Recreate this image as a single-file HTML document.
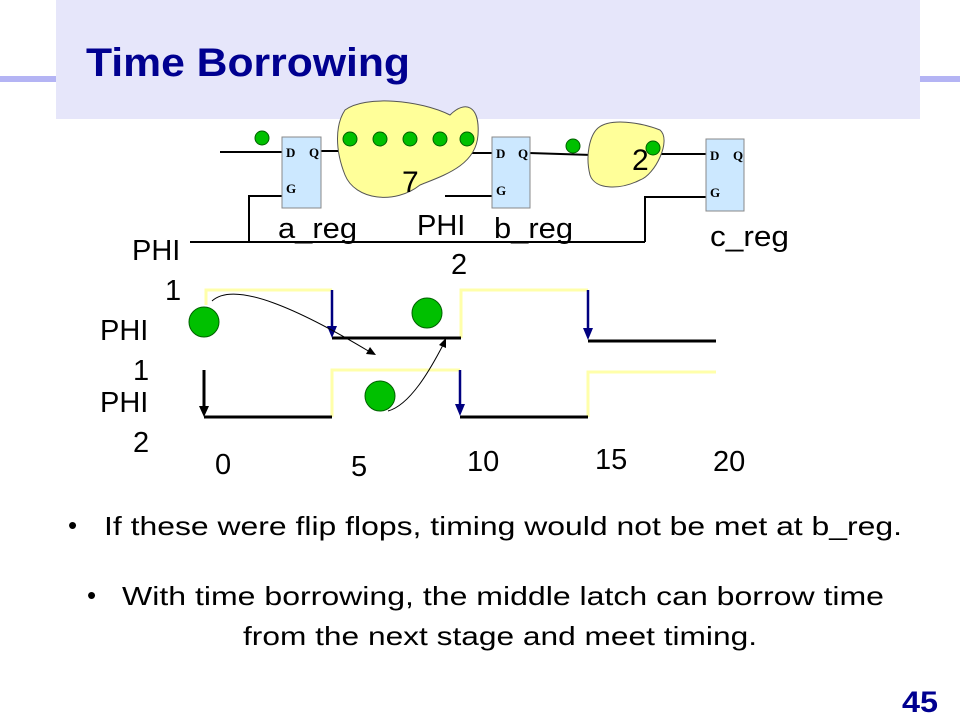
<!DOCTYPE html>
<html><head><meta charset="utf-8"><style>
body{margin:0;width:960px;height:720px;overflow:hidden;background:#fff}
svg{display:block}
text{font-family:"Liberation Sans",sans-serif}
</style></head><body>
<svg width="960" height="720" viewBox="0 0 960 720">
<rect x="56" y="0" width="864" height="119" fill="#e6e6fa"/>
<rect x="0" y="76" width="56" height="6" fill="#b4b4f4"/>
<rect x="920" y="76" width="40" height="6" fill="#b4b4f4"/>
<text x="86" y="76" font-size="40" font-weight="bold" fill="#000090" textLength="324" lengthAdjust="spacingAndGlyphs">Time Borrowing</text>

<g stroke="#000" stroke-width="2" fill="none">
<line x1="220" y1="152" x2="282" y2="152"/>
<line x1="320" y1="151" x2="340" y2="151"/>
<polyline points="282,196 249,196 249,242"/>
<line x1="190" y1="242" x2="645" y2="242"/>
<polyline points="645,242 645,197 706,197"/>
<line x1="445" y1="196" x2="492" y2="196"/>
<line x1="470" y1="153" x2="492" y2="153"/>
<line x1="529" y1="153" x2="592" y2="155"/>
<line x1="636" y1="154" x2="706" y2="154"/>
</g>
<path d="M345,110 C365,95 420,100 450,115 C465,100 480,105 478,135 C476,165 445,175 420,185 C395,205 355,200 345,175 C335,150 335,125 345,110 Z" fill="#ffff99" stroke="#555" stroke-width="1"/>
<path d="M598,128 C610,118 640,122 660,130 C672,140 655,175 640,180 C620,190 595,190 590,175 C585,155 590,135 598,128 Z" fill="#ffff99" stroke="#555" stroke-width="1"/>
<text x="402" y="192" font-size="30">7</text>
<text x="632" y="170" font-size="30">2</text>
<g fill="#cce8ff" stroke="#888" stroke-width="1">
<rect x="282" y="137" width="39" height="71"/>
<rect x="492" y="137" width="38" height="71"/>
<rect x="706" y="139" width="38" height="72"/>
</g>
<g font-weight="bold" font-size="13">
<text x="286" y="157" style="font-family:'Liberation Serif'">D</text><text x="309" y="157" style="font-family:'Liberation Serif'">Q</text><text x="286" y="193" style="font-family:'Liberation Serif'">G</text>
<text x="496" y="158" style="font-family:'Liberation Serif'">D</text><text x="518" y="158" style="font-family:'Liberation Serif'">Q</text><text x="496" y="195" style="font-family:'Liberation Serif'">G</text>
<text x="710" y="160" style="font-family:'Liberation Serif'">D</text><text x="733" y="160" style="font-family:'Liberation Serif'">Q</text><text x="710" y="197" style="font-family:'Liberation Serif'">G</text>
</g>
<g fill="#00c000" stroke="#006000" stroke-width="1">
<circle cx="262" cy="138" r="7"/>
<circle cx="350" cy="139" r="7"/><circle cx="380" cy="139" r="7"/><circle cx="410" cy="139" r="7"/><circle cx="440" cy="139" r="7"/><circle cx="467" cy="139" r="7"/>
<circle cx="573" cy="146" r="7"/><circle cx="653" cy="148" r="7"/>
</g>
<g font-size="29" fill="#000">
<text x="278" y="238" textLength="79" lengthAdjust="spacingAndGlyphs">a_reg</text>
<text x="417" y="235">PHI</text><text x="451" y="274">2</text>
<text x="494" y="238" textLength="79" lengthAdjust="spacingAndGlyphs">b_reg</text>
<text x="710" y="246" textLength="79" lengthAdjust="spacingAndGlyphs">c_reg</text>
<text x="132" y="260">PHI</text><text x="165" y="300">1</text>
<text x="100" y="340">PHI</text><text x="133" y="380">1</text>
<text x="100" y="412">PHI</text><text x="133" y="452">2</text>
<text x="215" y="474">0</text><text x="351" y="476">5</text><text x="467" y="471">10</text><text x="595" y="469">15</text><text x="713" y="471">20</text>
</g>
<g stroke="#ffffaa" stroke-width="3" fill="none">
<polyline points="206,305 206,290 332,290"/>
<polyline points="461,338 461,290 588,290"/>
<polyline points="332,417 332,370 460,370"/>
<polyline points="588,417 588,372 716,372"/>
</g>
<g stroke="#000" stroke-width="3" fill="none">
<line x1="332" y1="338" x2="461" y2="338"/>
<line x1="588" y1="341" x2="716" y2="341"/>
<line x1="204" y1="417" x2="332" y2="417"/>
<line x1="460" y1="417" x2="588" y2="417"/>
<line x1="204" y1="370" x2="204" y2="408"/>
</g>
<polygon points="199,406 209,406 204,417" fill="#000"/>
<g stroke="#000080" stroke-width="2.5">
<line x1="332" y1="290" x2="332" y2="328"/>
<line x1="588" y1="290" x2="588" y2="330"/>
<line x1="460" y1="370" x2="460" y2="406"/>
</g>
<g fill="#000080">
<polygon points="327,326 337,326 332,338"/>
<polygon points="583,328 593,328 588,340"/>
<polygon points="455,404 465,404 460,416"/>
</g>
<g fill="#00c000" stroke="#006000" stroke-width="1">
<circle cx="204" cy="322" r="15"/>
<circle cx="427" cy="313" r="15"/>
<circle cx="380" cy="396" r="15"/>
</g>
<g stroke="#000" stroke-width="1" fill="none">
<path d="M212,301 C235,280 300,310 370,352"/>
<path d="M388,411 C410,405 430,370 443,345"/>
</g>
<polygon points="376,355 366,354 370,347" fill="#000"/>
<polygon points="446,338 446,348 439,345" fill="#000"/>
<g font-size="26" fill="#000">
<text x="68" y="534">•</text><text x="104" y="535" textLength="798" lengthAdjust="spacingAndGlyphs">If these were flip flops, timing would not be met at b_reg.</text>
<text x="87" y="604">•</text><text x="122" y="605" textLength="762" lengthAdjust="spacingAndGlyphs">With time borrowing, the middle latch can borrow time</text>
<text x="243" y="645" textLength="514" lengthAdjust="spacingAndGlyphs">from the next stage and meet timing.</text>
</g>
<text x="902" y="712" font-size="30" font-weight="bold" fill="#000090" textLength="36" lengthAdjust="spacingAndGlyphs">45</text>
</svg>
</body></html>
